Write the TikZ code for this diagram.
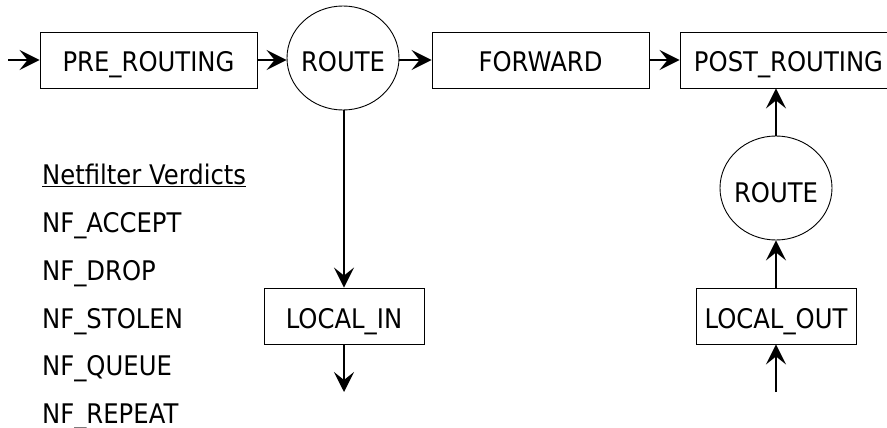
\documentclass[tikz,border=0pt]{standalone}
\usepackage{fontspec}
\setmainfont[FakeStretch=0.9]{DejaVu Sans}
\usetikzlibrary{arrows.meta,shapes.geometric}
\begin{document}
\begin{tikzpicture}[x=1pt,y=-1pt,
  txt/.style={inner sep=0pt,font=\fontsize{27}{30}\selectfont},
  box/.style={draw,line width=0.9pt,rectangle,minimum height=56pt,inner sep=0pt,text height=24pt,text depth=0pt,font=\fontsize{27}{30}\selectfont},
  oval/.style={draw,line width=0.9pt,ellipse,minimum width=112pt,minimum height=104pt,inner sep=0pt},
  flow/.style={line width=1.5pt,-{Stealth[length=20pt,width=20pt,inset=8pt]}},
  lbl/.style={anchor=base west,inner sep=0pt,font=\fontsize{27}{30}\selectfont}]
\useasboundingbox (0,0) rectangle (887,428);
\clip (0,0) rectangle (887,428);
\node[box,minimum width=217pt] (pre) at (148.5,60) {PRE\_ROUTING};
\node[oval] (r1) at (343,58) {};
\node[txt,anchor=base] (r1t) at (343,72) {ROUTE};
\node[box,minimum width=217pt] (fwd) at (540.5,60) {FORWARD};
\node[box,minimum width=217pt] (post) at (788.5,60) {};
\node[txt,anchor=base] (posttxt) at (788.5,72) {POST\_ROUTING};
\node[oval] (r2) at (776,188) {};
\node[txt,anchor=base] (r2t) at (776,202) {ROUTE};
\node[box,minimum width=160pt] (lin) at (344,316) {LOCAL\_IN};
\node[box,minimum width=160pt] (lout) at (776,316) {LOCAL\_OUT};
\coordinate (in0) at (8,60);
\coordinate (linend) at (344,392);
\coordinate (loutstart) at (776,392);
\draw[flow] (in0) -- (pre.west);
\draw[flow] (pre.east) -- (pre.east -| r1.west);
\draw[flow] (r1.east |- fwd.west) -- (fwd.west);
\draw[flow] (fwd.east) -- (post.west);
\draw[flow] (r1.south -| lin.north) -- (lin.north);
\draw[flow] (lin.south) -- (linend);
\draw[flow] (loutstart) -- (lout.south);
\draw[flow] (lout.north) -- (lout.north |- r2.south);
\draw[flow] (r2.north) -- (r2.north |- post.south);
\node[lbl] (title) at (42,184) {\underline{Netfilter Verdicts}};
\node[lbl] (v1) at (42,232) {NF\_ACCEPT};
\node[lbl] (v2) at (42,280) {NF\_DROP};
\node[lbl] (v3) at (42,328) {NF\_STOLEN};
\node[lbl] (v4) at (42,375.5) {NF\_QUEUE};
\node[lbl] (v5) at (42,423) {NF\_REPEAT};
\end{tikzpicture}
\end{document}
